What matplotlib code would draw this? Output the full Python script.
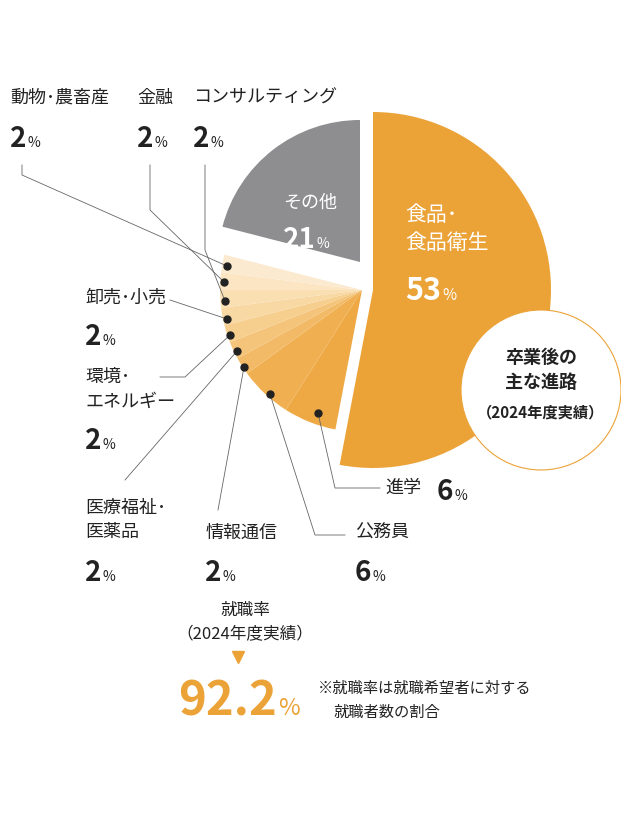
import matplotlib
matplotlib.use("Agg")
import matplotlib.pyplot as plt

plt.rcParams['font.family'] = ['Noto Sans CJK JP', 'DejaVu Sans']

categories = ["食品・食品衛生", "進学", "公務員", "情報通信", "医療福祉・医薬品", "環境・エネルギー",
              "卸売・小売", "動物・農畜産", "金融", "コンサルティング", "その他"]
values = [53, 6, 6, 2, 2, 2, 2, 2, 2, 2, 21]
colors = ["#EBA338", "#EEA945", "#F0B052", "#F2BA66", "#F4C47A", "#F6CE8E",
          "#F8D8A3", "#FADFB3", "#FBE5C2", "#FCEAD0", "#8E8E90"]

W, H = 621, 831
fig = plt.figure(figsize=(6.21, 8.31), dpi=100)
ax = fig.add_axes([0, 0, 1, 1])

def Y(y): return H - y

cx, cy = 362, 290
wedges, _ = ax.pie(values, colors=colors, startangle=90, counterclock=False,
                   center=(cx, Y(cy)), radius=142, frame=True,
                   wedgeprops=dict(linewidth=0))
wedges[0].set_center((373, Y(290))); wedges[0].set_radius(178)
wedges[-1].set_center((360, Y(262)))
ax.set_xlim(0, W); ax.set_ylim(0, H); ax.set_aspect('equal'); ax.axis('off')

def txt(x, y, s, size, color="#222222", weight="normal", ha="left", va="center", zorder=10, **kw):
    ax.text(x, Y(y), s, fontsize=size, color=color, fontweight=weight, ha=ha, va=va, zorder=zorder, **kw)

def pct(x, y, num, size=20, color="#222222"):
    t = ax.text(x, Y(y), num, fontsize=size, color=color, fontweight="bold", ha="left", va="baseline", zorder=10)
    fig.canvas.draw()
    bb = t.get_window_extent()
    ax.text(bb.x1 + 1, Y(y), "%", fontsize=size * 0.5, color=color, ha="left", va="baseline", zorder=10)

# inside labels
txt(405, 215, "食品･", 15, "white")
txt(405, 243, "食品衛生", 15, "white")
pct(405, 300, "53", 22, "white")
txt(310, 203, "その他", 13, "white", ha="center")
pct(283, 248, "21", 20, "white")

# circle
circ = plt.Circle((541, Y(390)), 80, facecolor="white", edgecolor="#EBA338", lw=0.8, zorder=5)
ax.add_patch(circ)
txt(541, 357, "卒業後の", 13, weight="bold", ha="center")
txt(541, 383, "主な進路", 13, weight="bold", ha="center")
txt(541, 412, "（2024年度実績）", 11, weight="bold", ha="center")

# leader lines and dots
dots = [(227, 266), (224, 282), (225, 301), (227, 319), (230, 335), (237, 351), (244, 367), (270, 394), (318, 413)]
lines = [
    [(227, 266), (22, 175), (22, 165)],
    [(224, 282), (150, 210), (150, 165)],
    [(225, 301), (205, 250), (205, 165)],
    [(227, 319), (170, 300)],
    [(230, 335), (185, 377), (160, 377)],
    [(237, 351), (125, 480)],
    [(244, 367), (218, 510)],
    [(270, 394), (315, 535), (345, 535)],
    [(318, 413), (335, 488), (380, 488)],
]
for (x, y) in dots:
    ax.plot(x, Y(y), 'o', color="#222222", ms=5, zorder=7)
for ln in lines:
    ax.plot([p[0] for p in ln], [Y(p[1]) for p in ln], color="#666666", lw=0.6, zorder=6)

# outer labels
txt(10, 98, "動物･農畜産", 13)
pct(10, 147, "2")
txt(137, 98, "金融", 13)
pct(137, 147, "2")
txt(193, 98, "コンサルティング", 13)
pct(193, 147, "2")
txt(85, 298, "卸売･小売", 13)
pct(85, 345, "2")
txt(85, 377, "環境･", 13)
txt(85, 402, "エネルギー", 13)
pct(85, 449, "2")
txt(85, 508, "医療福祉･", 13)
txt(85, 532, "医薬品", 13)
pct(85, 581, "2")
txt(205, 533, "情報通信", 13)
pct(205, 581, "2")
txt(355, 533, "公務員", 13)
pct(355, 581, "6")
txt(385, 488, "進学", 13)
pct(437, 500, "6")

# bottom
txt(245, 610, "就職率", 12, ha="center")
txt(245, 635, "（2024年度実績）", 12, ha="center")
ax.plot(238, Y(657), 'v', color="#EBA338", ms=8)
pct(178, 715, "92.2", 34, "#EBA338")
txt(318, 688, "※就職率は就職希望者に対する", 11)
txt(333, 712, "就職者数の割合", 11)

fig.savefig("out.png", dpi=100, facecolor="white")
